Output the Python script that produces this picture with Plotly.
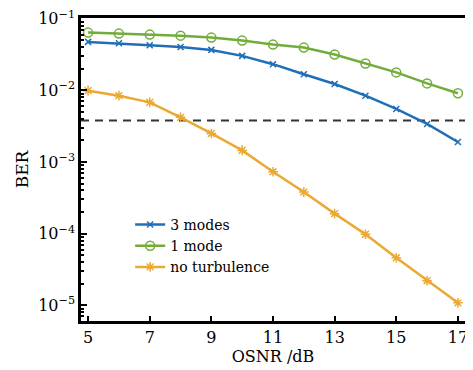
import plotly.graph_objects as go

osnr = [5, 6, 7, 8, 9, 10, 11, 12, 13, 14, 15, 16, 17]
ber_3modes = [0.0475, 0.0454, 0.0426, 0.0404, 0.0367, 0.0303, 0.0232, 0.0168, 0.01225, 0.00843, 0.0055, 0.0034, 0.0019]
ber_1mode = [0.064, 0.062, 0.060, 0.058, 0.0545, 0.0495, 0.0435, 0.0395, 0.0316, 0.0237, 0.0178, 0.0125, 0.0091]
ber_noturb = [0.0099, 0.00843, 0.0068, 0.0042, 0.0025, 0.00145, 0.00073, 0.00038, 0.00019, 0.000098, 0.000046, 0.000022, 0.0000108]
fec_threshold = 3.8e-3
x_ticks = [5, 7, 9, 11, 13, 15, 17]
y_tickvals = [1e-5, 1e-4, 1e-3, 1e-2, 1e-1]
y_ticktext = ["10<sup>−5</sup>", "10<sup>−4</sup>", "10<sup>−3</sup>", "10<sup>−2</sup>", "10<sup>−1</sup>"]

FONT = "DejaVu Serif"
fig = go.Figure()

fig.add_trace(go.Scatter(x=[4.77, 17.23], y=[fec_threshold, fec_threshold], mode="lines",
                         line=dict(color="#333333", width=2, dash="8px,6px"),
                         showlegend=False, hoverinfo="skip"))

fig.add_trace(go.Scatter(x=osnr, y=ber_3modes, name="3 modes", mode="lines+markers",
                         line=dict(color="#1f6fb8", width=2.5),
                         marker=dict(symbol="x-thin-open", size=6, line=dict(color="#1f6fb8", width=1.5))))
fig.add_trace(go.Scatter(x=osnr, y=ber_1mode, name="1 mode", mode="lines+markers",
                         line=dict(color="#72ad3a", width=2.5),
                         marker=dict(symbol="circle-open", size=9, line=dict(color="#72ad3a", width=1.5))))
fig.add_trace(go.Scatter(x=osnr, y=ber_noturb, name="no turbulence", mode="lines+markers",
                         line=dict(color="#eba931", width=2.5),
                         marker=dict(symbol="asterisk-open", size=8, line=dict(color="#eba931", width=1.5))))

minor_vals = [m * 10**e for e in range(-6, 0) for m in range(2, 10)]

fig.update_layout(
    width=465, height=362,
    margin=dict(l=73, r=8, t=10, b=49, autoexpand=False),
    paper_bgcolor="white", plot_bgcolor="white",
    font=dict(family=FONT, size=15, color="black"),
    showlegend=True,
    legend=dict(x=0.128, y=0.37, xanchor="left", yanchor="top",
                bgcolor="rgba(0,0,0,0)", borderwidth=0,
                font=dict(family=FONT, size=14, color="black"), itemwidth=30, tracegroupgap=0),
    xaxis=dict(range=[4.77, 17.23], tickvals=x_ticks, ticks="inside", ticklen=5,
               tickwidth=1.5, tickcolor="black", automargin=False, ticklabeloverflow="allow",
               showline=True, linecolor="black", linewidth=2.5, mirror=True,
               showgrid=False, zeroline=False,
               tickfont=dict(family=FONT, size=16),
               title=dict(text="OSNR /dB", font=dict(family=FONT, size=16), standoff=2)),
    yaxis=dict(type="log", range=[-5.22, -0.99], tickvals=y_tickvals, ticktext=y_ticktext,
               ticks="inside", ticklen=6, tickwidth=1.5, tickcolor="black", automargin=False,
               ticklabeloverflow="allow",
               minor=dict(tickvals=minor_vals, ticks="inside", ticklen=3, tickcolor="black", showgrid=False),
               showline=True, linecolor="black", linewidth=2.5, mirror=True,
               showgrid=False, zeroline=False,
               tickfont=dict(family=FONT, size=16),
               title=dict(text="BER", font=dict(family=FONT, size=17), standoff=6)),
)

fig.write_html("out.html")
